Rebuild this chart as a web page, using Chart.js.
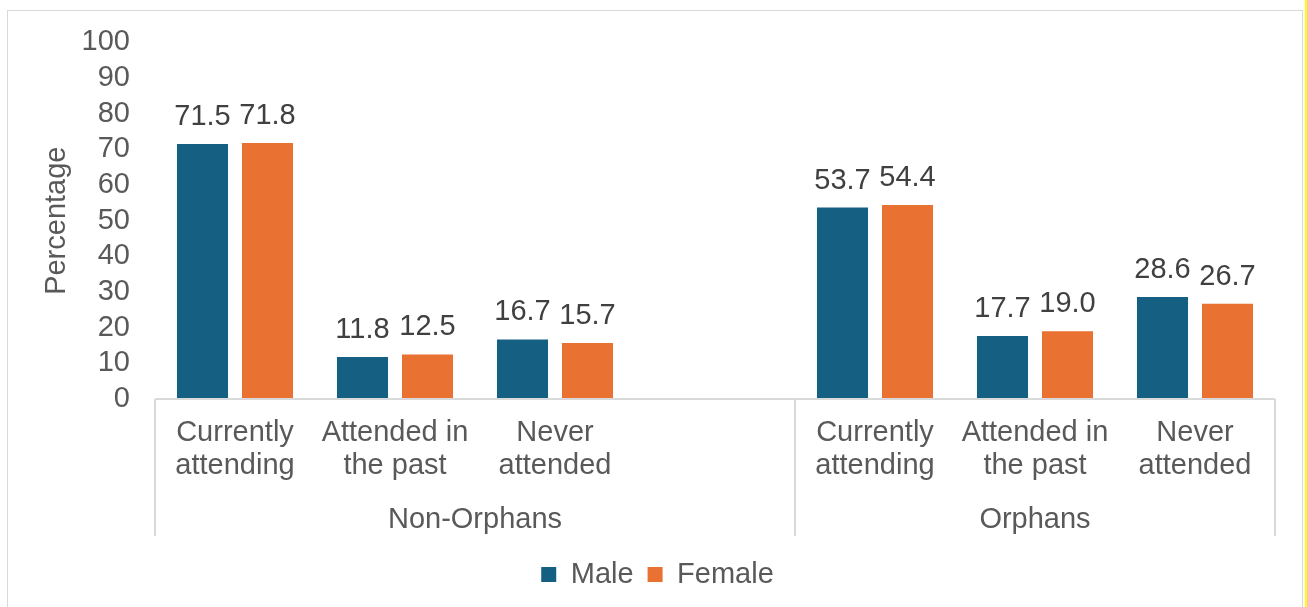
<!DOCTYPE html>
<html>
<head>
<meta charset="utf-8">
<script src="https://cdn.jsdelivr.net/npm/chart.js@4.4.1/dist/chart.umd.min.js"></script>
<style>
  html, body { margin: 0; padding: 0; background: #fff; overflow: hidden; }
  #wrap { position: absolute; left: 0; top: 0; width: 1307px; height: 607px; }
  #frame { position: absolute; left: 7px; top: 10px; width: 1294px; height: 610px; border: 1px solid #d9d9d9; pointer-events: none; }
  #edge { position: absolute; left: 1305px; top: 0; width: 2px; height: 607px; background: #ffff00; }
</style>
</head>
<body>
<div id="wrap">
  <canvas id="myChart" width="1307" height="607"></canvas>
  <div id="frame"></div>
  <div id="edge"></div>
</div>
<script>
// categories (empty slot between the two groups)
const categories = [
  ['Currently', 'attending'], ['Attended in', 'the past'], ['Never', 'attended'],
  '',
  ['Currently', 'attending'], ['Attended in', 'the past'], ['Never', 'attended']
];
const groups = ['Non-Orphans', 'Orphans'];
const maleValues = [71.5, 11.8, 16.7, null, 53.7, 17.7, 28.6];
const femaleValues = [71.8, 12.5, 15.7, null, 54.4, 19.0, 26.7];
const yTicks = [0, 10, 20, 30, 40, 50, 60, 70, 80, 90, 100];

const textGrey = '#595959';
const fontFam = 'Arial, "Liberation Sans", sans-serif';
const fSize = 29;

// value labels above bars + the two level axis
const extras = {
  id: 'extras',
  afterDatasetsDraw(chart) {
    const ctx = chart.ctx;
    ctx.save();
    ctx.font = fSize + 'px ' + fontFam;
    ctx.fillStyle = '#404040';
    ctx.textAlign = 'center';
    ctx.textBaseline = 'alphabetic';
    chart.data.datasets.forEach(function(ds, i) {
      chart.getDatasetMeta(i).data.forEach(function(bar, j) {
        if (ds.data[j] == null) return;
        ctx.fillText(ds.data[j].toFixed(1), bar.x, bar.y - 19);
      });
    });

    const x = chart.scales.x;
    const area = chart.chartArea;
    const mid = (x.getPixelForValue(3) + x.getPixelForValue(4)) / 2;
    const lineBottom = area.bottom + 137;
    ctx.strokeStyle = '#d9d9d9';
    ctx.lineWidth = 2;
    ctx.beginPath();
    ctx.moveTo(area.left, area.bottom);
    ctx.lineTo(area.right, area.bottom);
    [area.left, mid, area.right].forEach(function(px) {
      ctx.moveTo(px, area.bottom);
      ctx.lineTo(px, lineBottom);
    });
    ctx.stroke();

    ctx.fillStyle = textGrey;
    ctx.textBaseline = 'middle';
    ctx.fillText(groups[0], (area.left + mid) / 2, area.bottom + 121);
    ctx.fillText(groups[1], (mid + area.right) / 2, area.bottom + 121);
    ctx.restore();
  }
};

const myChart = document.getElementById('myChart').getContext('2d');

new Chart(myChart, {
  type: 'bar',
  data: {
    labels: categories,
    datasets: [{
      label: 'Male',
      data: maleValues,
      backgroundColor: '#156082',
      categoryPercentage: 0.8125,
      barPercentage: 0.785
    }, {
      label: 'Female',
      data: femaleValues,
      backgroundColor: '#e97132',
      categoryPercentage: 0.8125,
      barPercentage: 0.785
    }]
  },
  options: {
    responsive: false,
    animation: false,
    layout: { padding: { left: 40, right: 32, top: 40, bottom: 8 } },
    plugins: {
      tooltip: { enabled: false },
      legend: {
        position: 'bottom',
        labels: {
          color: textGrey,
          font: { size: fSize, family: fontFam },
          boxWidth: 15,
          boxHeight: 15,
          padding: 14
        }
      }
    },
    scales: {
      x: {
        grid: { display: false, drawTicks: false },
        border: { display: false },
        ticks: {
          color: textGrey,
          font: { size: fSize, family: fontFam, lineHeight: 1.14 },
          padding: 17,
          maxRotation: 0,
          autoSkip: false
        },
        afterFit: function(scale) { scale.height = 147; }
      },
      y: {
        min: 0,
        max: 100,
        grid: { display: false, drawTicks: false },
        border: { display: false },
        afterBuildTicks: function(scale) { scale.ticks = yTicks.map(function(v) { return { value: v }; }); },
        ticks: {
          color: textGrey,
          font: { size: fSize, family: fontFam },
          padding: 25,
          autoSkip: false
        },
        title: {
          display: true,
          text: 'Percentage',
          color: textGrey,
          font: { size: fSize, family: fontFam },
          padding: 0
        },
        afterFit: function(scale) { scale.width = 115; }
      }
    }
  },
  plugins: [extras]
});
</script>
</body>
</html>
